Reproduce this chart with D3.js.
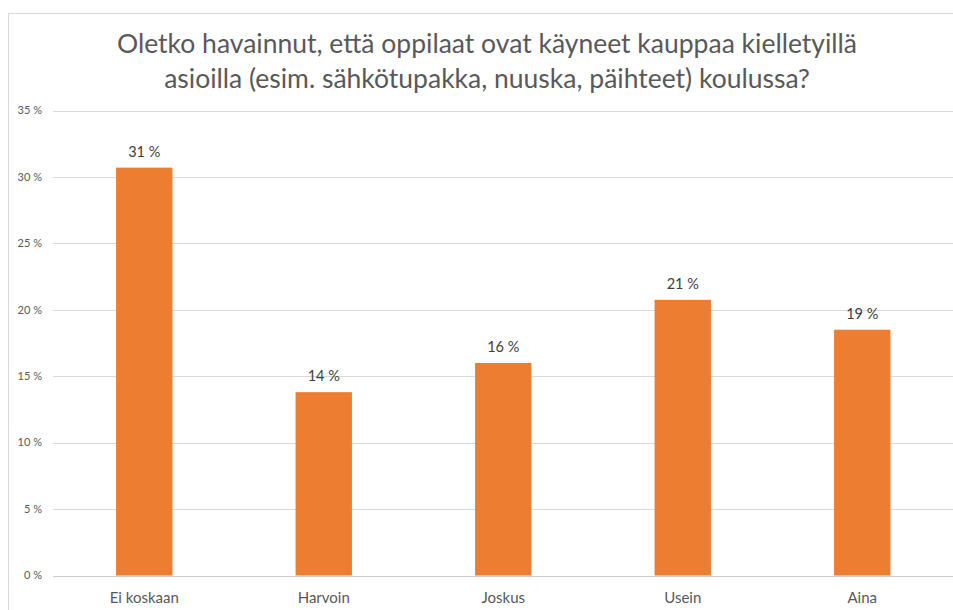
<!DOCTYPE html>
<html>
  <head>
    <meta charset="utf-8">
    <title>Kielletyt asiat</title>
    <script src="https://cdn.jsdelivr.net/npm/d3@7"></script>
    <style>
body {
  margin: 0;
  background: #fff;
  font-family: Lato, sans-serif;
}
.grid line {
  stroke: #d9d9d9;
  shape-rendering: crispEdges;
}
.frame {
  fill: none;
  stroke: #d9d9d9;
  shape-rendering: crispEdges;
}
    </style>
  </head>
  <body>
    <script>

var title = ["Oletko havainnut, että oppilaat ovat käyneet kauppaa kielletyillä",
             "asioilla (esim. sähkötupakka, nuuska, päihteet) koulussa?"];
var categories = ["Ei koskaan", "Harvoin", "Joskus", "Usein", "Aina"];
var values = [30.7, 13.8, 16.0, 20.75, 18.5];
var labels = ["31 %", "14 %", "16 %", "21 %", "19 %"];
var yTicks = [0, 5, 10, 15, 20, 25, 30, 35];

var w = 953, h = 610;
var padL = 54.5, padR = 952, padT = 110.5, padB = 575.5;

var svg = d3.select("body").append("svg")
    .attr("width", w)
    .attr("height", h);

// chart frame
svg.append("rect")
    .attr("class", "frame")
    .attr("x", 8.5)
    .attr("y", 13.5)
    .attr("width", 980)
    .attr("height", 620);

svg.append("text")
    .attr("x", 487)
    .attr("y", 45)
    .attr("text-anchor", "middle")
    .attr("fill", "#595959")
    .style("font-size", "26.5px")
    .selectAll("tspan")
    .data(title)
  .join("tspan")
    .attr("x", 487)
    .attr("dy", function(d, i) { return i ? 35 : 8; })
    .text(function(d) { return d; });

var x = d3.scaleBand()
    .domain(categories)
    .range([padL, padR])
    .paddingInner(0.686)
    .paddingOuter(0.343);

var y = d3.scaleLinear()
    .domain([0, 35])
    .range([padB, padT]);

var grid = svg.append("g").attr("class", "grid");
grid.selectAll("line")
    .data(yTicks)
  .join("line")
    .attr("x1", 53)
    .attr("x2", w)
    .attr("y1", function(d) { return Math.round(y(d)) + 0.5; })
    .attr("y2", function(d) { return Math.round(y(d)) + 0.5; })
    .style("stroke", function(d) { return d === 0 ? "#cccccc" : null; });

svg.append("g").selectAll("text")
    .data(yTicks)
  .join("text")
    .attr("x", 42)
    .attr("y", function(d) { return y(d); })
    .attr("dy", "0.35em")
    .attr("text-anchor", "end")
    .attr("fill", "#595959")
    .style("font-size", "11px")
    .text(function(d) { return d + " %"; });

svg.append("g").selectAll("rect")
    .data(values)
  .join("rect")
    .attr("x", function(d, i) { return x(categories[i]); })
    .attr("y", function(d) { return y(d); })
    .attr("width", x.bandwidth())
    .attr("height", function(d) { return y(0) - y(d); })
    .attr("fill", "#ED7D31");

svg.append("g").selectAll("text")
    .data(values)
  .join("text")
    .attr("x", function(d, i) { return x(categories[i]) + x.bandwidth() / 2; })
    .attr("y", function(d) { return y(d) - 11; })
    .attr("text-anchor", "middle")
    .attr("fill", "#404040")
    .style("font-size", "14.5px")
    .text(function(d, i) { return labels[i]; });

svg.append("g").selectAll("text")
    .data(categories)
  .join("text")
    .attr("x", function(d) { return x(d) + x.bandwidth() / 2; })
    .attr("y", 603)
    .attr("text-anchor", "middle")
    .attr("fill", "#595959")
    .style("font-size", "15px")
    .text(function(d) { return d; });

    </script>
  </body>
</html>
